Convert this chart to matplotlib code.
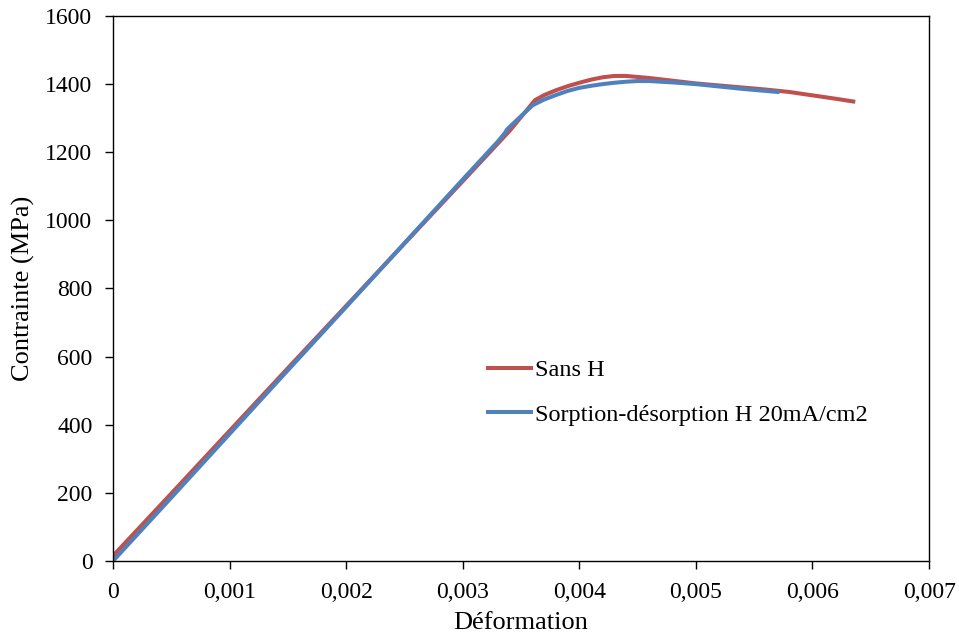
"""Courbes contrainte-déformation, avec et sans hydrogène."""

import matplotlib.pyplot as plt
from matplotlib.ticker import FuncFormatter


# Sans H
STRAIN_REF = [0, 0.0005, 0.001, 0.0015, 0.002, 0.0025, 0.003, 0.0034, 0.00362,
              0.0037, 0.0038, 0.0039, 0.004, 0.0041, 0.0042, 0.0043, 0.0044,
              0.0046, 0.0048, 0.005, 0.0052, 0.0054, 0.0056, 0.0058, 0.006,
              0.0062, 0.00635]
STRESS_REF = [15, 198, 382, 566, 749, 932, 1115, 1262, 1353,
              1368, 1382, 1394, 1404, 1413, 1420, 1424, 1424,
              1418, 1410, 1402, 1396, 1390, 1384, 1377, 1367,
              1357, 1349]

# Sorption-désorption H 20mA/cm2
STRAIN_H = [0, 0.0005, 0.001, 0.0015, 0.002, 0.0025, 0.003, 0.0033, 0.00336,
            0.00338, 0.0035, 0.0036, 0.0037, 0.0038, 0.0039, 0.004, 0.0041,
            0.0042, 0.0043, 0.0044, 0.0045, 0.0046, 0.0048, 0.005, 0.0052,
            0.0054, 0.0056, 0.0057]
STRESS_H = [0, 186, 373, 560, 746, 933, 1120, 1231, 1256,
            1267, 1306, 1338, 1355, 1368, 1380, 1389, 1395,
            1400, 1404, 1407, 1409, 1409, 1405, 1400, 1393,
            1386, 1380, 1377]

LABELS = ["Sans H", "Sorption-désorption H 20mA/cm2"]


def main():
    plt.rcParams["font.family"] = ["Liberation Serif", "DejaVu Serif"]

    fig = plt.figure(figsize=(9.59, 6.37), dpi=100)
    ax = fig.add_axes([0.1178, 0.1193, 0.851, 0.8556])

    ax.plot(STRAIN_REF, STRESS_REF, color="#C0504D", lw=2.9, label=LABELS[0])
    ax.plot(STRAIN_H, STRESS_H, color="#4F81BD", lw=2.9, label=LABELS[1])

    ax.set_xlim(0, 0.007)
    ax.set_ylim(0, 1600)
    ax.set_xticks([i * 0.001 for i in range(8)])
    ax.set_yticks(range(0, 1601, 200))
    ax.xaxis.set_major_formatter(
        FuncFormatter(lambda v, _: "0" if v == 0 else f"{v:.3f}".replace(".", ","))
    )
    ax.tick_params(direction="out", length=5.8, width=1, labelsize=17, pad=9)
    for spine in ax.spines.values():
        spine.set_linewidth(1)

    ax.set_xlabel("Déformation", fontsize=19, labelpad=7)
    ax.set_ylabel("Contrainte (MPa)", fontsize=19, labelpad=7)

    ax.legend(loc="upper left", bbox_to_anchor=(0.4596, 0.37), frameon=False,
              fontsize=17.5, handlelength=1.75, handletextpad=0.2,
              labelspacing=0.92, borderpad=0, borderaxespad=0)

    fig.savefig("out.png", dpi=100)
    plt.close(fig)


if __name__ == "__main__":
    main()
